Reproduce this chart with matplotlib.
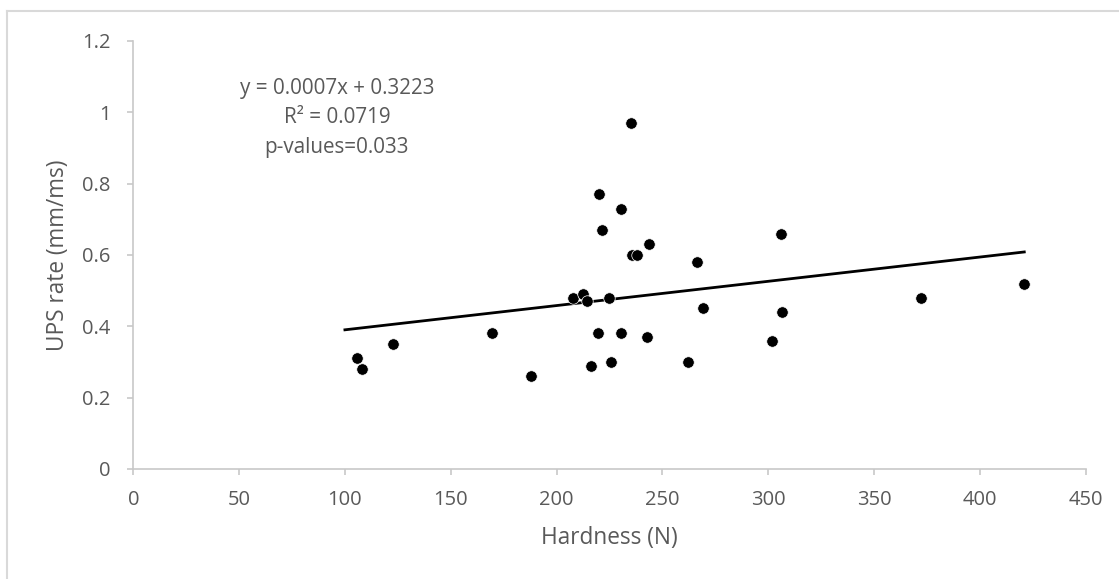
import numpy as np
import matplotlib
matplotlib.use("Agg")
import matplotlib.pyplot as plt
from matplotlib.lines import Line2D

# hardness vs UPS rate
hardness = [235.2, 219.9, 230.6, 221.5, 243.5, 235.8, 238.2, 266.2, 207.9, 212.6,
            214.4, 224.9, 269.3, 122.6, 169.5, 219.4, 230.6, 242.6, 262.2, 225.9,
            216.3, 187.9, 105.6, 108.1, 305.9, 306.5, 301.6, 372.0, 421.0]
ups_rate = [0.97, 0.77, 0.73, 0.67, 0.63, 0.60, 0.60, 0.58, 0.48, 0.49,
            0.47, 0.48, 0.45, 0.35, 0.38, 0.38, 0.38, 0.37, 0.30, 0.30,
            0.29, 0.26, 0.31, 0.28, 0.66, 0.44, 0.36, 0.48, 0.52]

x_ticks = [0, 50, 100, 150, 200, 250, 300, 350, 400, 450]
y_ticks = [0, 0.2, 0.4, 0.6, 0.8, 1.0, 1.2]
y_tick_labels = ["0", "0.2", "0.4", "0.6", "0.8", "1", "1.2"]

stats_lines = ["y = 0.0007x + 0.3223", "R\u00b2 = 0.0719", "p-values=0.033"]

grey_text = "#595959"
grey_axis = "#C8C8C8"
plt.rcParams["font.family"] = ["Open Sans", "DejaVu Sans"]

fig = plt.figure(figsize=(11.19, 5.79), dpi=100)
ax = fig.add_axes([0.1191, 0.19, 0.9702 - 0.1191, 0.9292 - 0.19])

# trend line (least squares)
slope, intercept = np.polyfit(hardness, ups_rate, 1)
xt = np.array([100, max(hardness)])
ax.plot(xt, slope * xt + intercept, color="black", linewidth=2, zorder=2)

ax.scatter(hardness, ups_rate, s=68, color="black", edgecolors="white",
           linewidths=0.5, zorder=3)

ax.set_xlim(0, 450)
ax.set_ylim(0, 1.2)
ax.set_xticks(x_ticks)
ax.set_yticks(y_ticks)
ax.set_yticklabels(y_tick_labels)

for side in ["top", "right"]:
    ax.spines[side].set_visible(False)
for side in ["left", "bottom"]:
    ax.spines[side].set_color(grey_axis)
    ax.spines[side].set_linewidth(1.2)

ax.tick_params(axis="both", length=4.3, width=1.2, color=grey_axis,
               labelcolor=grey_text, labelsize=14.5)
ax.tick_params(axis="x", pad=11)
ax.tick_params(axis="y", pad=12)

ax.set_xlabel("Hardness (N)", fontsize=16.3, color=grey_text, labelpad=11)
ax.set_ylabel("UPS rate (mm/ms)", fontsize=16.3, color=grey_text, labelpad=9)

# equation / stats text
text_y = [1.068, 0.985, 0.900]
for line, ty in zip(stats_lines, text_y):
    ax.text(96.2, ty, line, ha="center", va="center", fontsize=14.9,
            color=grey_text)

# chart frame (only top and left visible in the crop)
fx = 7 / 1119
fy = 1 - 11 / 579
fig.add_artist(Line2D([fx, 1], [fy, fy], transform=fig.transFigure,
                      color="#D9D9D9", linewidth=1.5))
fig.add_artist(Line2D([fx, fx], [0, fy], transform=fig.transFigure,
                      color="#D9D9D9", linewidth=1.5))

fig.savefig("out.png", dpi=100)
